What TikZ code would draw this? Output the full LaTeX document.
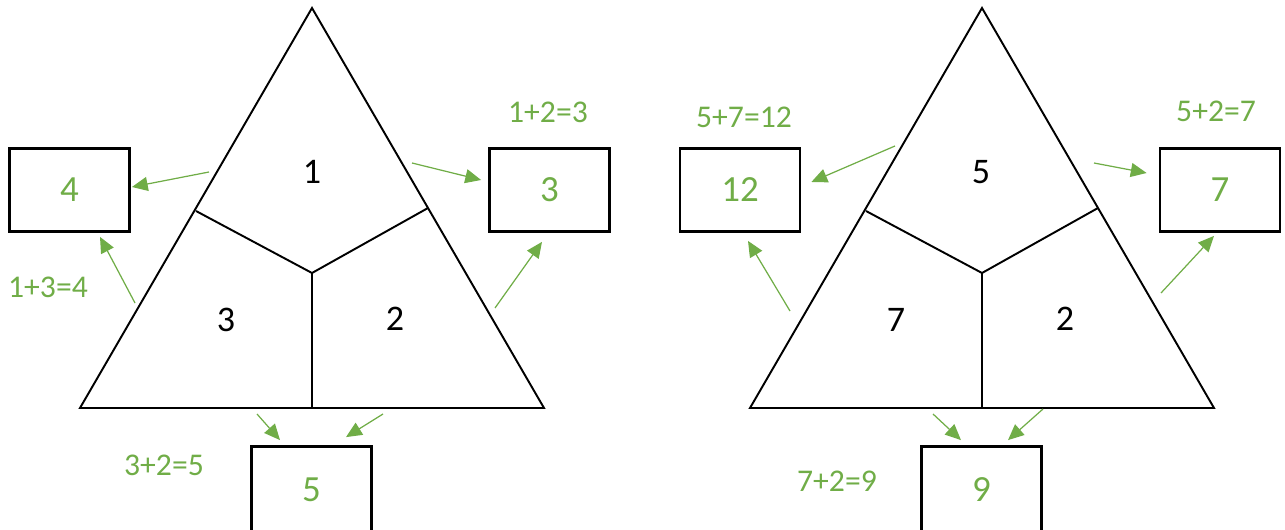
\documentclass[tikz,border=0pt]{standalone}
\usepackage{fontspec}
\setmainfont{Carlito}
\usepackage{tikz}
\usetikzlibrary{arrows.meta,calc}
\definecolor{sumgreen}{HTML}{70AD47}
\tikzset{
  sumbox/.style={draw,line width=1.6pt,minimum width=2.4cm,minimum height=1.66cm,
    inner sep=0pt,text=sumgreen,font=\fontsize{21}{21}\selectfont},
  sumarrow/.style={draw=sumgreen,line width=0.7pt,-{Triangle[length=9pt,width=8pt]}},
  sumlabel/.style={text=sumgreen,font=\fontsize{18}{18}\selectfont},
  part/.style={font=\fontsize{20.5}{20.5}\selectfont},
  edge/.style={line width=1.1pt,line join=miter}
}

\begin{document}
\begin{tikzpicture}[x=0.02cm,y=-0.02cm]
  \useasboundingbox (0,0) rectangle (1285,530);
  % left triangle
  \coordinate (la) at (312,8);
  \coordinate (ll) at (80,408);
  \coordinate (lr) at (544,408);
  \coordinate (lc) at (312,273);
  \draw[edge] (la) -- (lr) -- (ll) -- cycle;
  \draw[edge] (196,211) -- (lc) -- (428,208);
  \draw[edge] (lc) -- (312,408);
  \node[part] (ltop) at (312,172) {1};
  \node[part] (lleft) at (226,320) {3};
  \node[part] (lright) at (395,319) {2};
  % left sums
  \node[sumbox] (b4) at (69.5,190) {4};
  \node[sumbox] (b3) at (549.5,190) {3};
  \node[sumbox,minimum height=1.8cm] (b5) at (311.5,491.5) {\raisebox{2pt}{5}};
  \node[sumlabel] (s4) at (48,287) {1+3=4};
  \node[sumlabel] (s3) at (548,112) {1+2=3};
  \node[sumlabel] (s5) at (164,465) {3+2=5};
  \coordinate (p1) at (209,172);
  \coordinate (p2) at (135,303);
  \coordinate (p3) at (412,163);
  \coordinate (p4) at (495,308);
  \coordinate (p5) at (257,414);
  \coordinate (p6) at (383,414);
  \draw[sumarrow] (p1) -- ($(b4.east)+(1,-3)$);
  \draw[sumarrow] (p2) -- ($(b4.south)+(30.5,4)$);
  \draw[sumarrow] (p3) -- ($(b3.west)+(-7,-10)$);
  \draw[sumarrow] (p4) -- ($(b3.south)+(-7.5,9)$);
  \draw[sumarrow] (p5) -- ($(b5.north)+(-31.5,-5)$);
  \draw[sumarrow] (p6) -- ($(b5.north)+(34.5,-8)$);
  % right triangle
  \coordinate (ra) at (982,8);
  \coordinate (rl) at (750,408);
  \coordinate (rr) at (1214,408);
  \coordinate (rc) at (982,273);
  \draw[edge] (ra) -- (rr) -- (rl) -- cycle;
  \draw[edge] (866,211) -- (rc) -- (1098,208);
  \draw[edge] (rc) -- (982,408);
  \node[part] (rtop) at (981,172) {5};
  \node[part] (rleft) at (896,320) {7};
  \node[part] (rright) at (1065,319) {2};
  % right sums
  \node[sumbox] (b12) at (740,190) {12};
  \node[sumbox] (b7) at (1220,190) {7};
  \node[sumbox,minimum height=1.8cm] (b9) at (981.5,491.5) {\raisebox{2pt}{9}};
  \node[sumlabel] (s12) at (744,117) {5+7=12};
  \node[sumlabel] (s7) at (1216,111) {5+2=7};
  \node[sumlabel] (s9) at (837,481) {7+2=9};
  \coordinate (q1) at (895,146);
  \coordinate (q2) at (790,311);
  \coordinate (q3) at (1094,163);
  \coordinate (q4) at (1161,293);
  \coordinate (q5) at (933,414);
  \coordinate (q6) at (1043,409);
  \draw[sumarrow] (q1) -- ($(b12.east)+(10,-8)$);
  \draw[sumarrow] (q2) -- ($(b12.south)+(8,8)$);
  \draw[sumarrow] (q3) -- ($(b7.west)+(-12,-17)$);
  \draw[sumarrow] (q4) -- ($(b7.south)+(-6,3)$);
  \draw[sumarrow] (q5) -- ($(b9.north)+(-20.5,-5)$);
  \draw[sumarrow] (q6) -- ($(b9.north)+(26.5,-5)$);
\end{tikzpicture}
\end{document}
